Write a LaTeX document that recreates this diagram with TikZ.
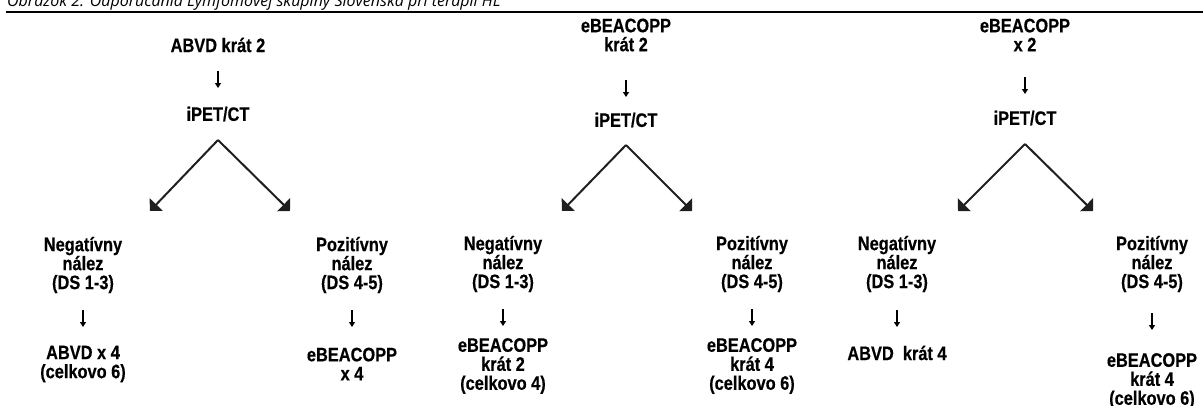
\documentclass[tikz,border=0pt]{standalone}
\usepackage{fontspec}
\usetikzlibrary{arrows.meta}
\newfontfamily\condb[FakeStretch=0.84,FakeBold=0.4,BoldFeatures={FakeStretch=0.84,FakeBold=0.4}]{Liberation Sans}
\newfontfamily\capfont{Open Sans}
\tikzset{
  lbl/.style={font=\condb\bfseries\fontsize{19.5}{19}\selectfont, align=center, inner sep=0pt, text=black},
  sarr/.style={-{Triangle[length=5pt,width=6pt]}, line width=1.6pt, draw=black},
  darr/.style={-{Triangle[length=9pt,width=18pt]}, line width=2pt, draw=black!88},
}
\begin{document}
\begin{tikzpicture}[x=1pt,y=-1pt]
\useasboundingbox (0,0) rectangle (1203,405);
\clip (0,0) rectangle (1203,405);
% caption and rule
\node[anchor=base west, font=\capfont\itshape\fontsize{16}{18}\selectfont, inner sep=0pt] (cap) at (7,6.5) {Obrázok 2. Odporúčania Lymfómovej skupiny Slovenska pri terapii HL};
\draw[line width=2pt] (6,12) -- (1203,12);
% column 1
\node[lbl] (t1) at (218,45) {ABVD krát 2};
\node[lbl] (p1) at (218,114) {iPET/CT};
\node[lbl] (n1) at (83,265) {Negatívny\\nález\\(DS 1-3)};
\node[lbl] (q1) at (352,265) {Pozitívny\\nález\\(DS 4-5)};
\node[lbl] (r1) at (83,364) {ABVD x 4\\(celkovo 6)};
\node[lbl] (s1) at (352,364) {eBEACOPP\\x 4};
\coordinate (L1) at (150,211);
\coordinate (R1) at (290,211);
\draw[sarr, shorten <=26pt, shorten >=26pt] (t1.center) -- (p1.center);
\draw[darr] ([yshift=-26pt]p1.center) -- (L1);
\draw[darr] ([yshift=-26pt]p1.center) -- (R1);
\draw[sarr, shorten <=45pt, shorten >=37pt] (n1.center) -- (r1.center);
\draw[sarr, shorten <=45pt, shorten >=37pt] (q1.center) -- (s1.center);
% column 2
\node[lbl] (t2) at (626,35) {eBEACOPP\\krát 2};
\node[lbl] (p2) at (626,120) {iPET/CT};
\node[lbl] (n2) at (503,264) {Negatívny\\nález\\(DS 1-3)};
\node[lbl] (q2) at (752,264) {Pozitívny\\nález\\(DS 4-5)};
\node[lbl] (r2) at (503,366) {eBEACOPP\\krát 2\\(celkovo 4)};
\node[lbl] (s2) at (752,366) {eBEACOPP\\krát 4\\(celkovo 6)};
\coordinate (L2) at (562,211);
\coordinate (R2) at (692,211);
\draw[sarr, shorten <=45pt, shorten >=23pt] (t2.center) -- (p2.center);
\draw[darr] ([yshift=-25pt]p2.center) -- (L2);
\draw[darr] ([yshift=-25pt]p2.center) -- (R2);
\draw[sarr, shorten <=45pt, shorten >=40pt] (n2.center) -- (r2.center);
\draw[sarr, shorten <=45pt, shorten >=40pt] (q2.center) -- (s2.center);
% column 3
\node[lbl] (t3) at (1025,35) {eBEACOPP\\x 2};
\node[lbl] (p3) at (1025,118) {iPET/CT};
\node[lbl] (n3) at (897,264) {Negatívny\\nález\\(DS 1-3)};
\node[lbl] (q3) at (1152,264) {Pozitívny\\nález\\(DS 4-5)};
\node[lbl] (r3) at (897,353) {ABVD~ krát 4};
\node[lbl] (s3) at (1152,381) {eBEACOPP\\krát 4\\(celkovo 6)};
\coordinate (L3) at (958,211);
\coordinate (R3) at (1093,211);
\draw[sarr, shorten <=42pt, shorten >=24pt] (t3.center) -- (p3.center);
\draw[darr] ([yshift=-26pt]p3.center) -- (L3);
\draw[darr] ([yshift=-26pt]p3.center) -- (R3);
\draw[sarr, shorten <=46pt, shorten >=26pt] (n3.center) -- (r3.center);
\draw[sarr, shorten <=49pt, shorten >=51pt] (q3.center) -- (s3.center);
\end{tikzpicture}
\end{document}
